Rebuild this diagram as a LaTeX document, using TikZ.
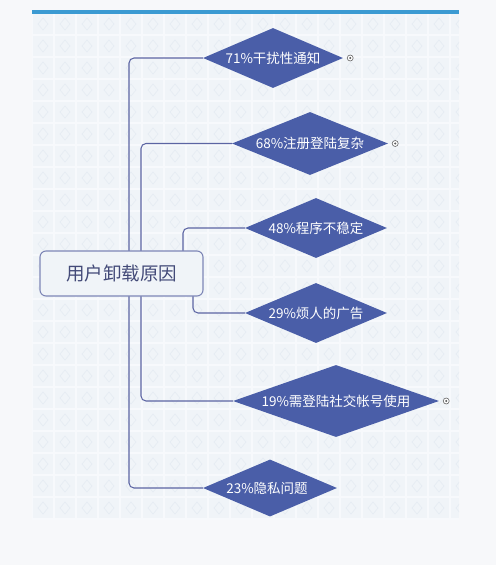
\documentclass[tikz,border=0pt]{standalone}
\usepackage{fontspec}
\setmainfont{Noto Sans CJK SC}
\usetikzlibrary{shapes.geometric}
\definecolor{bgc}{HTML}{F7F8FA}
\definecolor{patc}{HTML}{F0F4F8}
\definecolor{gridc}{HTML}{F7F9FC}
\definecolor{motc}{HTML}{E6ECF3}
\definecolor{barc}{HTML}{3B9AD2}
\definecolor{dia}{HTML}{4A5EA8}
\definecolor{linec}{HTML}{5C65A3}
\definecolor{boxc}{HTML}{7E86B6}
\definecolor{txtc}{HTML}{434A78}
\tikzset{
  x=1pt, y=-1pt,
  dnode/.style={shape=diamond, fill=dia, draw=none, inner sep=0pt},
  dtext/.style={text=white, font=\fontsize{13.5}{15}\selectfont, inner sep=0pt},
  conn/.style={draw=linec, line width=1.05pt, rounded corners=5pt},
  plusdot/.style={circle, draw=gray!80!black, fill=white, line width=0.6pt, minimum size=6pt, inner sep=0pt},
}
\begin{document}
\begin{tikzpicture}
\useasboundingbox (0,0) rectangle (496,565);
\fill[bgc] (0,0) rectangle (496,565);
\fill[patc] (32,13) rectangle (459,520);
\begin{scope}
\clip (32,13) rectangle (459,520);
\foreach \i in {0,...,19} { \foreach \j in {0,...,22} {
  \draw[motc, line width=0.7pt] (43+22*\i,18+22*\j) -- (48+22*\i,24+22*\j) -- (43+22*\i,30+22*\j) -- (38+22*\i,24+22*\j) -- cycle;
} }
\foreach \i in {0,...,20} { \draw[gridc, line width=1.3pt] (32+22*\i,13) -- (32+22*\i,520); }
\foreach \j in {0,...,23} { \draw[gridc, line width=1.3pt] (32,13+22*\j) -- (459,13+22*\j); }
\end{scope}
\fill[barc] (32,10) rectangle (459,13.5);

% diamonds
\node[dnode, minimum width=140pt, minimum height=60pt] (d1) at (273,58) {};
\node[dnode, minimum width=156pt, minimum height=63pt] (d2) at (310,143.5) {};
\node[dnode, minimum width=142pt, minimum height=60pt] (d3) at (316,228) {};
\node[dnode, minimum width=142pt, minimum height=60pt] (d4) at (316,313) {};
\node[dnode, minimum width=206pt, minimum height=72pt] (d5) at (336,401) {};
\node[dnode, minimum width=134pt, minimum height=57pt] (d6) at (270,488) {};

\node[dtext] (t1) at (d1.center) {71\%干扰性通知};
\node[dtext] (t2) at (d2.center) {68\%注册登陆复杂};
\node[dtext] (t3) at (d3.center) {48\%程序不稳定};
\node[dtext] (t4) at (d4.center) {29\%烦人的广告};
\node[dtext] (t5) at (d5.center) {19\%需登陆社交帐号使用};
\node[dtext] (t6) at ([xshift=-3pt]d6.center) {23\%隐私问题};

% central box position
\coordinate (bc) at (121.5,273.5);
\coordinate (bn) at (121.5,251);
\coordinate (bs) at (121.5,296);

% connectors
\draw[conn] ([xshift=7.5pt]bn) |- (d1.west);
\draw[conn] ([xshift=7.5pt]bs) |- (d6.west);
\draw[conn] ([xshift=19.5pt]bn) |- (d2.west);
\draw[conn] ([xshift=19.5pt]bs) |- (d5.west);
\draw[conn] ([xshift=61.5pt]bn) |- (d3.west);
\draw[conn] ([xshift=71.5pt]bs) |- (d4.west);

\node[draw=boxc, line width=1.1pt, fill=patc, rounded corners=6pt, minimum width=163pt, minimum height=45pt, text=txtc, font=\fontsize{18.5}{20}\selectfont] (box) at (bc) {用户卸载原因};

% expand markers
\node[plusdot] (p1) at ([xshift=7pt]d1.east) {};
\node[plusdot] (p2) at ([xshift=7pt]d2.east) {};
\node[plusdot] (p5) at ([xshift=7pt]d5.east) {};
\fill[gray!70!black] (p1.center) circle (1.1pt);
\fill[gray!70!black] (p2.center) circle (1.1pt);
\fill[gray!70!black] (p5.center) circle (1.1pt);
\end{tikzpicture}
\end{document}
